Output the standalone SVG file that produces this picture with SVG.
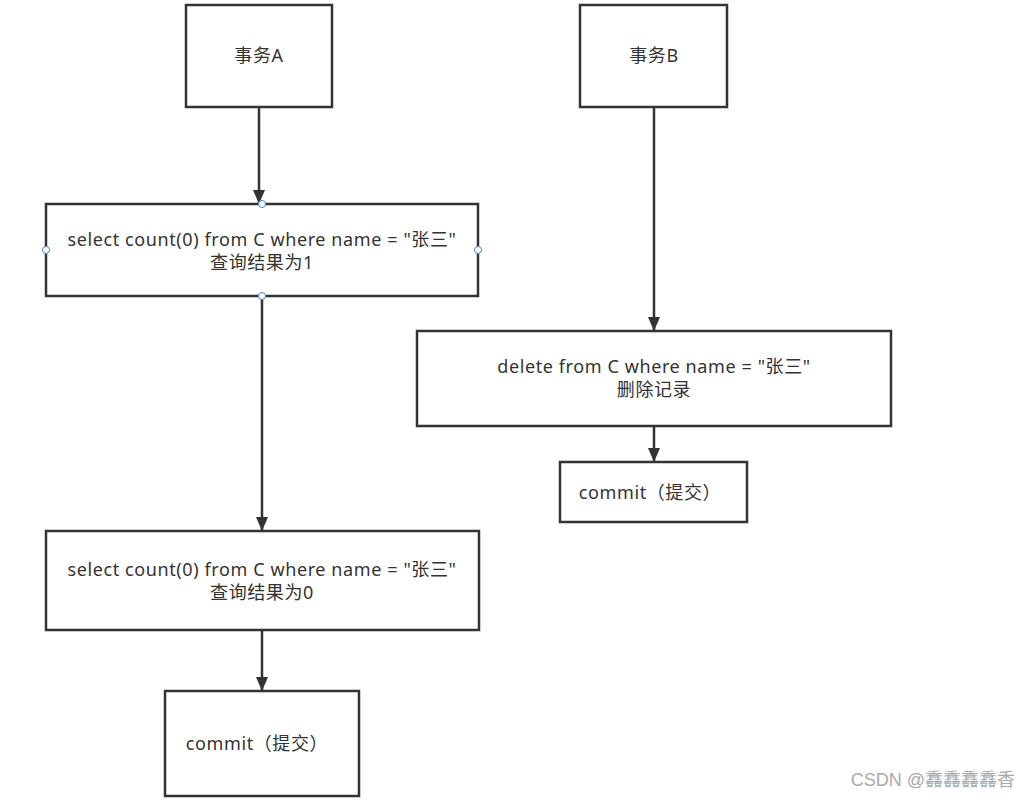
<svg xmlns="http://www.w3.org/2000/svg" width="1032" height="800" viewBox="0 0 1032 800">
<style>
.box{fill:#fff;stroke:#333;stroke-width:2.5}
.t{font-family:"Noto Sans","Noto Sans CJK SC",sans-serif;font-size:18px;letter-spacing:0.6px;fill:#333;text-anchor:middle}
.conn{stroke:#333;stroke-width:2.5;fill:none}
.h{fill:#fff;stroke:#4a86c8;stroke-width:1}
</style>
<defs>
<marker id="arr" markerWidth="14" markerHeight="14" refX="13" refY="6" orient="auto" markerUnits="userSpaceOnUse">
<path d="M0,0 L14,6 L0,12 Z" fill="#333"/>
</marker>
</defs>
<rect width="1032" height="800" fill="#fff"/>
<g id="connectors">
<line class="conn" x1="259" y1="107" x2="259" y2="203" marker-end="url(#arr)"/>
<line class="conn" x1="262" y1="296" x2="262" y2="530" marker-end="url(#arr)"/>
<line class="conn" x1="262" y1="630" x2="262" y2="690" marker-end="url(#arr)"/>
<line class="conn" x1="654" y1="107" x2="654" y2="330" marker-end="url(#arr)"/>
<line class="conn" x1="654" y1="426" x2="654" y2="461" marker-end="url(#arr)"/>
</g>
<g id="txA">
<rect class="box" x="186" y="5" width="146" height="102"/>
<text class="t" x="259" y="62">事务A</text>
</g>
<g id="txB">
<rect class="box" x="580" y="5" width="147" height="102"/>
<text class="t" x="654" y="62">事务B</text>
</g>
<g id="select1">
<rect class="box" x="46" y="204" width="432" height="92"/>
<text class="t" x="262" y="246">select count(0) from C where name = "张三"</text>
<text class="t" x="262" y="269">查询结果为1</text>
<circle class="h" cx="262" cy="204" r="3.5"/>
<circle class="h" cx="46" cy="250" r="3.5"/>
<circle class="h" cx="478" cy="250" r="3.5"/>
<circle class="h" cx="262" cy="296" r="3.5"/>
</g>
<g id="delete">
<rect class="box" x="417" y="331" width="474" height="95"/>
<text class="t" x="654" y="373">delete from C where name = "张三"</text>
<text class="t" x="654" y="396">删除记录</text>
</g>
<g id="commitB">
<rect class="box" x="560" y="462" width="187" height="60"/>
<text class="t" x="650" y="499">commit（提交）</text>
</g>
<g id="select2">
<rect class="box" x="46" y="531" width="433" height="99"/>
<text class="t" x="262" y="576">select count(0) from C where name = "张三"</text>
<text class="t" x="262" y="599">查询结果为0</text>
</g>
<g id="commitA">
<rect class="box" x="165" y="691" width="194" height="105"/>
<text class="t" x="257" y="750">commit（提交）</text>
</g>
<text x="1015" y="786" style="font-family:'Liberation Sans','Noto Sans CJK SC',sans-serif;font-size:18px;fill:#aaa;text-anchor:end">CSDN @馫馫馫馫香</text>
</svg>
